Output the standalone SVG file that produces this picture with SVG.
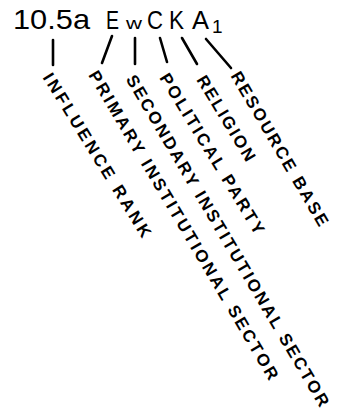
<svg xmlns="http://www.w3.org/2000/svg" width="339" height="412" viewBox="0 0 339 412">
<style>
.hdr{font-family:"Liberation Sans",Arial,sans-serif;fill:#000}
.lbl{font-family:"Liberation Sans",Arial,sans-serif;font-weight:bold;font-size:17px;fill:#000}
.con line{stroke:#000;stroke-width:2.6;stroke-linecap:round}
</style>
<rect width="339" height="412" fill="#fff"/>
<g id="header">
<text class="hdr" x="13" y="29" font-size="28" textLength="77" lengthAdjust="spacingAndGlyphs">10.5a</text>
<text class="hdr" x="106" y="29" font-size="26" textLength="13" lengthAdjust="spacingAndGlyphs">E</text>
<text class="hdr" x="126" y="29" font-size="17" textLength="16" lengthAdjust="spacingAndGlyphs">w</text>
<text class="hdr" x="147" y="29" font-size="26" textLength="16" lengthAdjust="spacingAndGlyphs">C</text>
<text class="hdr" x="169" y="29" font-size="26" textLength="15" lengthAdjust="spacingAndGlyphs">K</text>
<text class="hdr" x="192" y="29" font-size="26" textLength="17" lengthAdjust="spacingAndGlyphs">A</text>
<text class="hdr" x="212" y="33" font-size="19">1</text>
</g>
<g id="connectors" class="con">
<line x1="53" y1="40" x2="53" y2="65"/>
<line x1="112" y1="36" x2="102" y2="63"/>
<line x1="135" y1="38" x2="135" y2="64"/>
<line x1="160" y1="38" x2="167" y2="62"/>
<line x1="182" y1="38" x2="197" y2="64"/>
<line x1="206" y1="39" x2="231" y2="68"/>
</g>
<g id="influence-rank">
<text class="lbl" x="0" y="0" dy="0.36em" text-anchor="middle" textLength="190" lengthAdjust="spacing" transform="translate(97.5,155) rotate(58.3)">INFLUENCE RANK</text>
</g>
<g id="primary-sector">
<text class="lbl" x="0" y="0" dy="0.36em" text-anchor="middle" textLength="356" lengthAdjust="spacing" transform="translate(184,225) rotate(59.4)">PRIMARY INSTITUTIONAL SECTOR</text>
</g>
<g id="secondary-sector">
<text class="lbl" x="0" y="0" dy="0.36em" text-anchor="middle" textLength="382" lengthAdjust="spacing" transform="translate(228,240.5) rotate(59.4)">SECONDARY INSTITUTIONAL SECTOR</text>
</g>
<g id="political-party">
<text class="lbl" x="0" y="0" dy="0.36em" text-anchor="middle" textLength="185" lengthAdjust="spacing" transform="translate(212.5,153.5) rotate(58.6)">POLITICAL PARTY</text>
</g>
<g id="religion">
<text class="lbl" x="0" y="0" dy="0.36em" text-anchor="middle" textLength="97" lengthAdjust="spacing" transform="translate(226.5,118) rotate(58.7)">RELIGION</text>
</g>
<g id="resource-base">
<text class="lbl" x="0" y="0" dy="0.36em" text-anchor="middle" textLength="176" lengthAdjust="spacing" transform="translate(280,148.5) rotate(59.6)">RESOURCE BASE</text>
</g>
</svg>
